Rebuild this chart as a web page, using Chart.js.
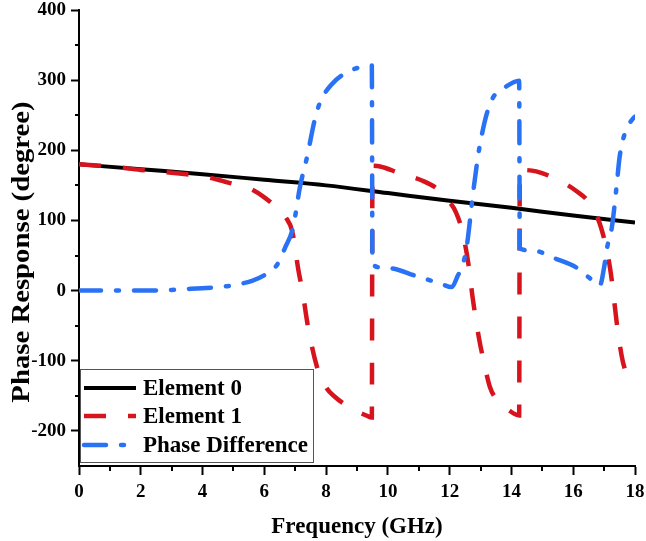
<!DOCTYPE html>
<html>
<head>
<meta charset="utf-8">
<title>Phase Response</title>
<script src="https://cdn.jsdelivr.net/npm/chart.js@4.4.0/dist/chart.umd.min.js"></script>
<style>
    html, body { margin: 0; padding: 0; background: #fff; }
</style>
</head>
<body>
<canvas id="phaseChart" width="646" height="541"></canvas>
<script>
// data (frequency in GHz, phase in degree)
const freqE0 = [0, 2, 4, 6, 8, 10, 12, 14, 16, 18];
const phaseE0 = [180, 173, 166, 158, 150, 139, 128, 118, 107, 97];

const freqE1 = [0, 1, 2, 3, 4, 4.5, 5, 5.5, 6, 6.4, 6.7, 6.9, 7.1, 7.25, 7.4, 7.7, 8.0, 8.3, 8.6, 9.0, 9.3, 9.48,
    9.5, 9.75, 10.4, 11.1, 11.6, 12.0, 12.2, 12.4, 12.6, 12.75, 12.95, 13.1, 13.3, 13.55, 13.9, 14.25,
    14.27, 14.8, 15.45, 16.1, 16.5, 16.9, 17.2, 17.45, 17.6, 17.8];
const phaseE1 = [180, 177, 172, 168, 163, 158, 152, 146, 133, 118, 104, 85, 30, -5, -48, -108, -138, -152, -162, -172, -178, -181,
    178, 177, 167, 157, 145, 126, 112, 86, 40, -12, -68, -100, -137, -157, -170, -178,
    172, 170, 159, 142, 126, 90, 30, -60, -100, -128];

const freqDiff = [0, 1, 2, 3, 3.8, 4.5, 4.9, 5.6, 6.0, 6.4, 6.67, 6.93, 7.15, 7.38, 7.64, 7.8, 8.2, 8.66, 9.25, 9.48,
    9.5, 10.0, 10.9, 11.7, 12.07, 12.25, 12.43, 12.55, 12.76, 12.93, 13.05, 13.2, 13.4, 13.8, 14.25,
    14.27, 14.7, 15.46, 16.1, 16.5, 16.86, 17.0, 17.1, 17.25, 17.4, 17.5, 17.67, 17.93, 18];
const phaseDiff = [0, 0, 0, 1, 3, 5, 7, 14, 22, 36, 61, 90, 147, 190, 245, 268, 295, 311, 320, 321,
    37, 32, 21, 10, 5, 20, 38, 62, 140, 195, 224, 252, 275, 290, 299,
    60, 57, 45, 33, 19, 7, 33, 62, 90, 147, 190, 224, 245, 248];

const xTicks = [0, 2, 4, 6, 8, 10, 12, 14, 16, 18];
const yTicks = [-200, -100, 0, 100, 200, 300, 400];
const xMinor = [1, 3, 5, 7, 9, 11, 13, 15, 17];
const yMinor = [-150, -50, 50, 150, 250, 350];

const yTitle = 'Phase Response (degree)';
const serif = '"Liberation Serif", "Times New Roman", serif';

function toPoints(xs, ys) {
    return xs.map((x, i) => ({ x: x, y: ys[i] }));
}

// minor ticks, y title and the boxed legend inside the plot
const extrasPlugin = {
    id: 'extras',
    afterDraw(chart) {
        const ctx = chart.ctx;
        const xs = chart.scales.x;
        const ys = chart.scales.y;
        const area = chart.chartArea;

        ctx.save();
        ctx.strokeStyle = '#000';
        ctx.lineWidth = 2;
        ctx.beginPath();
        xMinor.forEach(v => {
            const px = Math.round(xs.getPixelForValue(v));
            ctx.moveTo(px, area.bottom);
            ctx.lineTo(px, area.bottom + 5);
        });
        yMinor.forEach(v => {
            const py = Math.round(ys.getPixelForValue(v));
            ctx.moveTo(area.left, py);
            ctx.lineTo(area.left - 4, py);
        });
        ctx.stroke();

        // y title (the original is stretched along its length)
        ctx.save();
        ctx.translate(29, 252);
        ctx.rotate(-Math.PI / 2);
        ctx.scale(1.15, 1);
        ctx.font = 'bold 25px ' + serif;
        ctx.fillStyle = '#000';
        ctx.textAlign = 'center';
        ctx.textBaseline = 'alphabetic';
        ctx.fillText(yTitle, 0, 0);
        ctx.restore();

        // legend box
        const box = { left: 80.5, top: 369.5, width: 233, height: 93 };
        ctx.fillStyle = '#fff';
        ctx.fillRect(box.left, box.top, box.width, box.height);
        ctx.strokeStyle = '#555';
        ctx.lineWidth = 1;
        ctx.strokeRect(box.left, box.top, box.width, box.height);

        const rows = [388, 416, 445];
        ctx.font = 'bold 23px ' + serif;
        ctx.textBaseline = 'middle';
        ctx.textAlign = 'left';
        chart.data.datasets.forEach((ds, i) => {
            const y = rows[i];
            ctx.beginPath();
            ctx.setLineDash(ds.borderDash || []);
            ctx.lineCap = ds.borderCapStyle || 'butt';
            ctx.strokeStyle = ds.borderColor;
            ctx.lineWidth = ds.borderWidth;
            ctx.moveTo(84, y);
            ctx.lineTo(136, y);
            ctx.stroke();
            ctx.setLineDash([]);
            ctx.fillStyle = '#000';
            ctx.fillText(ds.label, 143, y + 1);
        });
        ctx.restore();
    }
};

const ctx = document.getElementById('phaseChart');

new Chart(ctx, {
    type: 'line',
    data: {
        datasets: [{
            label: 'Element 0',
            data: toPoints(freqE0, phaseE0),
            borderColor: '#000000',
            borderWidth: 4,
            pointRadius: 0,
            cubicInterpolationMode: 'monotone',
            order: 3
        }, {
            label: 'Element 1',
            data: toPoints(freqE1, phaseE1),
            borderColor: '#d7141e',
            borderWidth: 4.5,
            borderDash: [22, 22],
            borderCapStyle: 'butt',
            pointRadius: 0,
            cubicInterpolationMode: 'monotone',
            order: 2
        }, {
            label: 'Phase Difference',
            data: toPoints(freqDiff, phaseDiff),
            borderColor: '#2a72f5',
            borderWidth: 4.5,
            borderDash: [22, 15, 3, 15],
            borderCapStyle: 'round',
            pointRadius: 0,
            cubicInterpolationMode: 'monotone',
            order: 1
        }]
    },
    options: {
        responsive: false,
        animation: false,
        layout: {
            padding: { top: 10, right: 11, left: 0, bottom: 0 }
        },
        plugins: {
            legend: { display: false },
            tooltip: { enabled: false }
        },
        scales: {
            x: {
                type: 'linear',
                position: 'bottom',
                min: 0,
                max: 18,
                border: { display: true, color: '#000', width: 2 },
                grid: { drawOnChartArea: false, drawTicks: true, tickLength: 9, tickColor: '#000', tickWidth: 2 },
                ticks: {
                    stepSize: 2,
                    color: '#000',
                    padding: 6,
                    maxRotation: 0,
                    font: { family: serif, size: 19, weight: 'bold' }
                },
                afterBuildTicks: function (scale) {
                    scale.ticks = xTicks.map(v => ({ value: v }));
                },
                afterFit: function (scale) {
                    scale.height = 75;
                    scale.paddingLeft = 0;
                    scale.paddingRight = 0;
                },
                title: {
                    display: true,
                    text: 'Frequency (GHz)',
                    color: '#000',
                    font: { family: serif, size: 23, weight: 'bold' },
                    padding: { top: 4, bottom: 0 }
                }
            },
            y: {
                type: 'linear',
                min: -250,
                max: 400,
                border: { display: true, color: '#000', width: 2 },
                grid: { drawOnChartArea: false, drawTicks: true, tickLength: 8, tickColor: '#000', tickWidth: 2 },
                ticks: {
                    stepSize: 100,
                    color: '#000',
                    padding: 5,
                    font: { family: serif, size: 19, weight: 'bold' }
                },
                afterBuildTicks: function (scale) {
                    scale.ticks = yTicks.map(v => ({ value: v }));
                },
                afterFit: function (scale) {
                    scale.width = 79;
                    scale.paddingTop = 0;
                    scale.paddingBottom = 0;
                },
                title: { display: false, text: yTitle }
            }
        }
    },
    plugins: [extrasPlugin]
});
</script>
</body>
</html>
